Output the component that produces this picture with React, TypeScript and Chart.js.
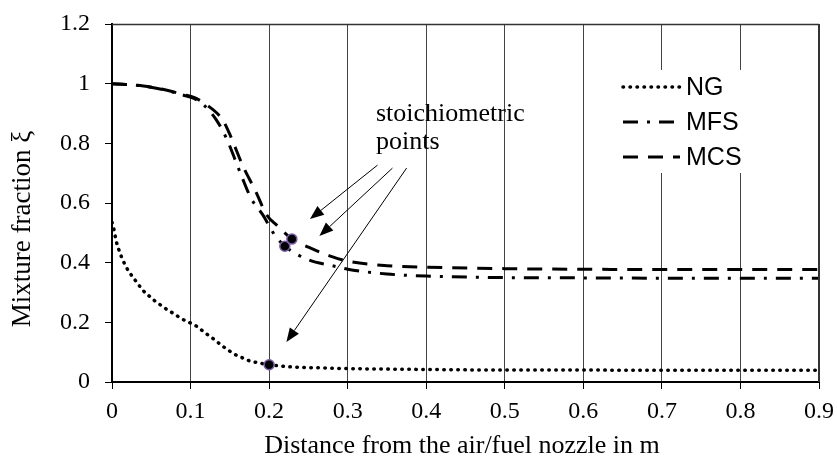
import React, { useEffect, useRef } from "react";
import { Chart, registerables } from "chart.js";
Chart.register(...registerables);

// ---- data ----
const ngX = [0, 0.0013, 0.0034, 0.0056, 0.0085, 0.012, 0.016, 0.021, 0.027, 0.033, 0.039, 0.047, 0.054, 0.063, 0.071, 0.08, 0.088, 0.098, 0.107, 0.115, 0.123, 0.131, 0.139, 0.148, 0.156, 0.166, 0.175, 0.185, 0.2, 0.214, 0.226, 0.243, 0.27, 0.3, 0.4, 0.5, 0.6, 0.7, 0.8, 0.9];
const ngY = [0.535, 0.526, 0.498, 0.47, 0.445, 0.42, 0.396, 0.372, 0.35, 0.329, 0.308, 0.289, 0.273, 0.256, 0.241, 0.227, 0.213, 0.2, 0.188, 0.172, 0.156, 0.141, 0.124, 0.107, 0.093, 0.081, 0.071, 0.065, 0.058, 0.054, 0.051, 0.049, 0.047, 0.045, 0.042, 0.04, 0.04, 0.039, 0.039, 0.039];

const mfsX = [0, 0.04, 0.07, 0.09, 0.105, 0.117, 0.133, 0.146, 0.156, 0.165, 0.177, 0.192, 0.207, 0.22, 0.25, 0.28, 0.3, 0.35, 0.4, 0.5, 0.6, 0.7, 0.8, 0.9];
const mfsY = [1.0, 0.992, 0.977, 0.962, 0.95, 0.928, 0.878, 0.815, 0.75, 0.69, 0.616, 0.56, 0.493, 0.455, 0.41, 0.39, 0.378, 0.362, 0.355, 0.35, 0.349, 0.348, 0.348, 0.348];

const mcsX = [0, 0.04, 0.07, 0.09, 0.105, 0.12, 0.141, 0.15, 0.167, 0.182, 0.197, 0.21, 0.222, 0.229, 0.25, 0.28, 0.3, 0.35, 0.4, 0.5, 0.6, 0.7, 0.8, 0.9];
const mcsY = [1.0, 0.992, 0.978, 0.964, 0.953, 0.93, 0.878, 0.83, 0.722, 0.644, 0.56, 0.525, 0.495, 0.479, 0.452, 0.42, 0.405, 0.39, 0.385, 0.38, 0.378, 0.377, 0.377, 0.377];

// stoichiometric points
const stoichX = [0.2, 0.22, 0.229];
const stoichY = [0.058, 0.455, 0.479];

const xTickLabels = ["0", "0.1", "0.2", "0.3", "0.4", "0.5", "0.6", "0.7", "0.8", "0.9"];
const yTickLabels = ["0", "0.2", "0.4", "0.6", "0.8", "1", "1.2"];

const seriesNames = ["NG", "MFS", "MCS"];
const xTitle = "Distance from the air/fuel nozzle in m";
const yTitle = "Mixture fraction ξ";
const annotationLines = ["stoichiometric", "points"];
// arrows: [fromX, fromY, toX, toY] in data units
const arrowFromX = [0.338, 0.357, 0.375];
const arrowFromY = [0.727, 0.717, 0.717];
const arrowToX = [0.252, 0.264, 0.222];
const arrowToY = [0.546, 0.489, 0.134];

const DASH_NG = [0.5, 6.5];
const DASH_MFS = [15, 9, 3, 9];
const DASH_MCS = [15, 10];

const zip = (xs: number[], ys: number[]) => xs.map((x, i) => ({ x, y: ys[i] }));

const serif = "'Liberation Serif', 'Times New Roman', serif";
const sans = "'Liberation Sans', Arial, sans-serif";

const overlay = {
  id: "overlay",
  afterDatasetsDraw(chart: any) {
    const { ctx, chartArea: a, scales } = chart;
    const xs = scales.x, ys = scales.y;
    ctx.save();
    // top & right frame
    ctx.strokeStyle = "#333";
    ctx.lineWidth = 1.5;
    ctx.beginPath();
    ctx.moveTo(a.left, a.top + 0.5);
    ctx.lineTo(a.right, a.top + 0.5);
    ctx.stroke();
    ctx.lineWidth = 2;
    ctx.beginPath();
    ctx.moveTo(a.right, a.top);
    ctx.lineTo(a.right, a.bottom);
    ctx.stroke();

    // arrows
    ctx.strokeStyle = "#000";
    ctx.fillStyle = "#000";
    ctx.lineWidth = 1;
    for (let i = 0; i < arrowFromX.length; i++) {
      const x1 = xs.getPixelForValue(arrowFromX[i]);
      const y1 = ys.getPixelForValue(arrowFromY[i]);
      const x2 = xs.getPixelForValue(arrowToX[i]);
      const y2 = ys.getPixelForValue(arrowToY[i]);
      const ang = Math.atan2(y2 - y1, x2 - x1);
      const L = 14, W = 5.5;
      const bx = x2 - L * Math.cos(ang), by = y2 - L * Math.sin(ang);
      ctx.beginPath();
      ctx.moveTo(x1, y1);
      ctx.lineTo(bx, by);
      ctx.stroke();
      ctx.beginPath();
      ctx.moveTo(x2, y2);
      ctx.lineTo(bx + W * Math.sin(ang), by - W * Math.cos(ang));
      ctx.lineTo(bx - W * Math.sin(ang), by + W * Math.cos(ang));
      ctx.closePath();
      ctx.fill();
    }

    // annotation text
    ctx.font = `26px ${serif}`;
    ctx.textAlign = "left";
    ctx.textBaseline = "alphabetic";
    ctx.fillText(annotationLines[0], 376, 121);
    ctx.fillText(annotationLines[1], 376, 149);

    // legend
    const lx = 622, lw = 121, ly = 70, lh = 103;
    ctx.fillStyle = "#fff";
    ctx.fillRect(lx, ly, lw, lh);
    const rowsY = [87, 122, 157];
    const dashes = [DASH_NG, DASH_MFS, DASH_MCS];
    for (let i = 0; i < 3; i++) {
      ctx.strokeStyle = "#000";
      ctx.lineWidth = i === 0 ? 3.5 : 3;
      ctx.setLineDash(dashes[i]);
      ctx.lineCap = i === 0 ? "round" : "butt";
      ctx.beginPath();
      ctx.moveTo(623, rowsY[i]);
      ctx.lineTo(680, rowsY[i]);
      ctx.stroke();
      ctx.setLineDash([]);
      ctx.fillStyle = "#000";
      ctx.font = `25px ${sans}`;
      ctx.textBaseline = "middle";
      ctx.fillText(seriesNames[i], 686, rowsY[i] + 1);
    }

    // axis titles
    ctx.fillStyle = "#000";
    ctx.font = `26px ${serif}`;
    ctx.textAlign = "center";
    ctx.textBaseline = "middle";
    ctx.fillText(xTitle, 462, 446);
    ctx.font = `27px ${serif}`;
    ctx.translate(23, 229);
    ctx.rotate(-Math.PI / 2);
    ctx.fillText(yTitle, 0, 0);
    ctx.restore();
  },
};

export default function App() {
  const ref = useRef<HTMLCanvasElement>(null);
  useEffect(() => {
    if (!ref.current) return;
    const chart = new Chart(ref.current, {
      type: "line",
      data: {
        datasets: [
          {
            label: "stoich",
            data: zip(stoichX, stoichY),
            showLine: false,
            pointRadius: 5,
            pointBackgroundColor: "#000",
            pointBorderColor: "#7a5ca8",
            pointBorderWidth: 1.5,
            clip: false,
            order: 0,
          } as any,
          {
            label: seriesNames[0],
            data: zip(ngX, ngY),
            borderColor: "#000",
            borderWidth: 3.5,
            borderDash: DASH_NG,
            borderCapStyle: "round",
            pointRadius: 0,
            cubicInterpolationMode: "monotone",
            order: 1,
          },
          {
            label: seriesNames[1],
            data: zip(mfsX, mfsY),
            borderColor: "#000",
            borderWidth: 3,
            borderDash: DASH_MFS,
            pointRadius: 0,
            cubicInterpolationMode: "monotone",
            order: 2,
          },
          {
            label: seriesNames[2],
            data: zip(mcsX, mcsY),
            borderColor: "#000",
            borderWidth: 3,
            borderDash: DASH_MCS,
            pointRadius: 0,
            cubicInterpolationMode: "monotone",
            order: 3,
          },
        ],
      },
      options: {
        responsive: false,
        animation: false,
        layout: { autoPadding: false, padding: { top: 24, right: 18, left: 0, bottom: 0 } },
        plugins: { legend: { display: false }, tooltip: { enabled: false } },
        scales: {
          x: {
            type: "linear",
            min: 0,
            max: 0.9,
            afterFit: (s: any) => {
              s.height = 80;
              s.paddingLeft = 0;
              s.paddingRight = 0;
            },
            afterBuildTicks: (s: any) => { s.ticks = xTickLabels.map((l) => ({ value: parseFloat(l) })); },
            ticks: {
              callback: (_v: any, i: number) => xTickLabels[i],
              color: "#000",
              font: { family: serif, size: 24 },
              padding: 8,
              maxRotation: 0,
              autoSkip: false,
            },
            grid: { color: "#444", lineWidth: 1, tickLength: 7, tickColor: "#000" },
            border: { display: true, color: "#000", width: 2 },
          },
          y: {
            type: "linear",
            min: 0,
            max: 1.2,
            afterFit: (s: any) => {
              s.width = 112;
              s.paddingTop = 0;
              s.paddingBottom = 0;
            },
            afterBuildTicks: (s: any) => { s.ticks = yTickLabels.map((l) => ({ value: parseFloat(l) })); },
            ticks: {
              callback: (_v: any, i: number) => yTickLabels[i],
              color: "#000",
              font: { family: serif, size: 24 },
              padding: 15,
              autoSkip: false,
            },
            grid: { drawOnChartArea: false, tickLength: 7, tickColor: "#000", lineWidth: 1 },
            border: { display: true, color: "#000", width: 2 },
          },
        },
      },
      plugins: [overlay],
    });
    return () => chart.destroy();
  }, []);
  return (
    <div style={{ position: "fixed", left: 0, top: 0, width: 837, height: 462, background: "#fff" }}>
      <canvas ref={ref} width={837} height={462} />
    </div>
  );
}
